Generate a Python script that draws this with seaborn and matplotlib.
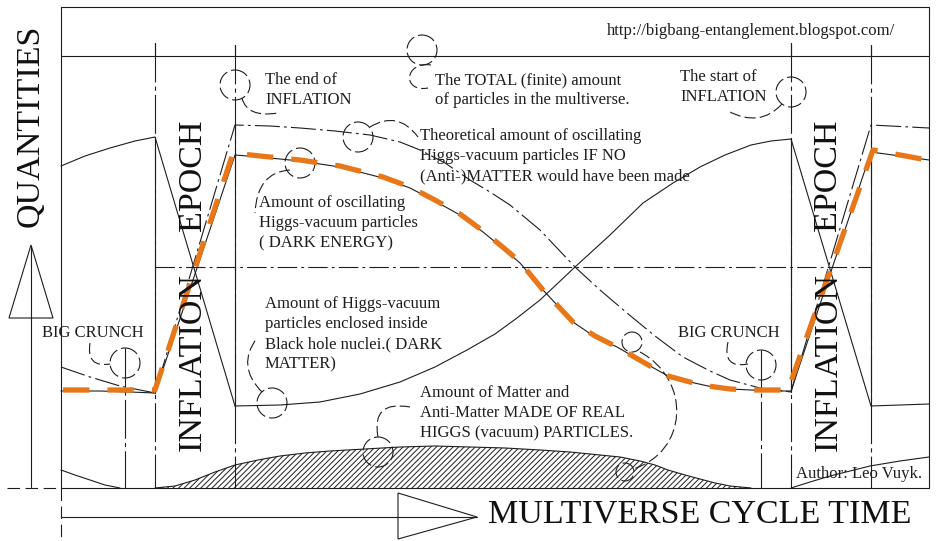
import numpy as np
import matplotlib.pyplot as plt
import matplotlib.patches as mpatches
from matplotlib.path import Path
import seaborn as sns

sns.set_style('white')
plt.rcParams['font.family'] = ['Liberation Serif', 'DejaVu Serif']
plt.rcParams['lines.scale_dashes'] = False
plt.rcParams['hatch.linewidth'] = 0.7
plt.rcParams['hatch.color'] = '#222222'

INK = '#1e1e1e'
ORANGE = '#E8771A'

# curves, in picture units (x = cycle time, y = quantity, downwards)
# dark matter (Higgs particles inside black hole nuclei)
dm_prev_x = [61, 85, 110, 135, 155, 235]
dm_prev_y = [166, 156, 148, 141, 137, 406]
dm_x = [235, 280, 320, 360, 400, 435, 467, 495, 517, 540, 575, 610, 643, 673, 700, 725, 751, 771, 791, 871, 900, 929]
dm_y = [406, 405, 402, 394, 382, 367, 350, 334, 318, 300, 267, 235, 203, 183, 167, 155, 145, 141, 139, 406, 405, 404]

# dark energy (oscillating Higgs-vacuum particles)
de_x = [61, 100, 130, 155, 235, 260, 300, 340, 383, 410, 433, 460, 483, 505, 520, 543, 573, 595, 617, 643, 668, 690, 708, 730, 751, 771, 791, 871, 929]
de_y = [391, 391, 392, 393, 155, 157, 161, 167, 178, 188, 200, 215, 232, 250, 263, 290, 322, 337, 347, 362, 376, 382, 386, 389, 390, 391, 391, 152, 160]

# theoretical amount if no (anti-)matter
th_x = [61, 90, 120, 155, 235, 270, 300, 335, 370, 400, 420, 445, 470, 490, 510, 540, 575, 600, 627, 655, 683, 710, 730, 760, 791, 871, 929]
th_y = [367, 377, 386, 393, 125, 126, 128, 131, 135, 142, 150, 163, 180, 192, 205, 230, 267, 290, 313, 336, 357, 371, 380, 388, 392, 125, 128]

# orange overlay
or_x = [63, 155, 233, 260, 300, 340, 383, 410, 433, 460, 483, 505, 520, 543, 573, 595, 617, 643, 668, 690, 708, 730, 751, 788, 873, 938]
or_y = [390, 390, 153, 156, 160, 166, 177, 187, 199, 214, 231, 249, 262, 290, 322, 336, 347, 362, 376, 382, 386, 389, 390, 390, 150, 162]

# matter and anti-matter
mat_x = [155, 175, 195, 215, 235, 258, 280, 305, 330, 365, 400, 435, 470, 505, 540, 570, 600, 620, 640, 655, 668, 685, 700, 715, 730, 751]
mat_y = [488, 486, 480, 472, 465, 460, 456, 453, 451, 449, 447, 446, 447, 448, 450, 452, 455, 457, 461, 465, 470, 475, 479, 483, 486, 488]
mat_prev_x = [61, 75, 90, 105, 120]
mat_prev_y = [470, 475, 480, 485, 488]
mat_next_x = [791, 810, 830, 850, 870, 900, 929]
mat_next_y = [488, 482, 476, 471, 466, 461, 457]

# epoch borders and big crunch markers
epoch_x = [155, 235, 791, 871]
epoch_top = [43, 45, 43, 45]
epoch_solid_top = [137, 125, 139, 125]
epoch_solid_bot = [393, 406, 392, 407]
crunch_x = [125, 761]
crunch_top = [348, 350]

# dashed circles: x, y, r
circ_x = [235, 422, 791, 358, 300, 272, 378, 632, 625, 125, 761]
circ_y = [85, 50, 92, 137, 163, 403, 452, 342, 472, 363, 365]
circ_r = [15, 15, 15, 15, 15, 15, 15, 10, 9, 15, 15]

# dashed leaders (quadratic: start, control, end)
lead3 = [
    [(242, 98), (247, 118), (278, 113)],
    [(782, 104), (760, 128), (728, 111)],
    [(370, 127), (398, 110), (418, 137)],
    [(290, 170), (257, 172), (255, 213)],
    [(262, 392), (236, 366), (257, 338)],
    [(378, 437), (371, 400), (410, 407)],
    [(90, 343), (86, 368), (110, 364)],
    [(728, 342), (722, 369), (748, 364)],
]
# cubic leaders
lead4 = [
    [(431, 65), (404, 61), (402, 93), (428, 88)],
    [(640, 352), (692, 380), (688, 452), (633, 469)],
]

# labels: left x, first-line centre y, lines
labels = [
    (607, 30, ['http://bigbang-entanglement.blogspot.com/']),
    (265, 79, ['The end of', 'INFLATION']),
    (435, 79, ['The TOTAL (finite) amount', 'of particles in the multiverse.']),
    (680, 76, ['The start of', 'INFLATION']),
    (420, 135, ['Theoretical amount of oscillating', 'Higgs-vacuum particles IF NO',
                '(Anti-)MATTER would have been made']),
    (259, 202, ['Amount of oscillating', 'Higgs-vacuum particles', '( DARK ENERGY)']),
    (265, 303, ['Amount of Higgs-vacuum', 'particles enclosed inside',
                'Black hole nuclei.( DARK', 'MATTER)']),
    (420, 392, ['Amount of Matter and', 'Anti-Matter MADE OF REAL',
                'HIGGS (vacuum) PARTICLES.']),
    (42, 332, ['BIG CRUNCH']),
    (678, 332, ['BIG CRUNCH']),
    (796, 473, ['Author: Leo Vuyk.']),
]

fig = plt.figure(figsize=(9.38, 5.41), dpi=100)
ax = fig.add_axes([0, 0, 1, 1])
ax.set_xlim(0, 938)
ax.set_ylim(541, 0)
ax.axis('off')

lw = 0.8
dashdot = (0, (28, 3, 3, 3))

# frame
ax.plot([61, 929, 929, 61, 61], [7, 7, 488, 488, 7], color=INK, lw=lw)
ax.plot([61, 929], [56, 56], color=INK, lw=lw)
ax.plot([61, 61], [488, 541], color=INK, lw=lw, ls=(0, (9, 4)))
ax.plot([7, 61], [488, 488], color=INK, lw=lw, ls=(0, (9, 4)))
ax.plot([155, 871], [267, 267], color=INK, lw=lw, ls=(0, (14, 3, 2, 3)))

for x, t, s0, s1 in zip(epoch_x, epoch_top, epoch_solid_top, epoch_solid_bot):
    ax.plot([x, x], [t, 488], color=INK, lw=lw, ls=dashdot)
    ax.plot([x, x], [t, 56], color=INK, lw=lw)
    ax.plot([x, x], [s0, s1], color=INK, lw=lw)
for x, t in zip(crunch_x, crunch_top):
    ax.plot([x, x], [t, 488], color=INK, lw=lw, ls=dashdot)

# axes arrows
ax.plot([31, 31], [247, 487], color=INK, lw=lw)
ax.add_patch(mpatches.Polygon([(31, 245), (9, 318), (53, 318)], closed=True,
                              fill=False, ec=INK, lw=lw))
ax.plot([61, 477], [517, 517], color=INK, lw=lw)
ax.add_patch(mpatches.Polygon([(398, 493), (398, 539), (477, 517)], closed=True,
                              fill=False, ec=INK, lw=lw))

# matter, hatched
ax.fill_between(mat_x, mat_y, 488, facecolor='white', edgecolor=INK, hatch='//////', lw=0)
for xs, ys in [(mat_x, mat_y), (mat_prev_x, mat_prev_y), (mat_next_x, mat_next_y)]:
    sns.lineplot(x=xs, y=ys, sort=False, estimator=None, ax=ax, color=INK, lw=lw, legend=False)

# curves
sns.lineplot(x=dm_prev_x, y=dm_prev_y, sort=False, estimator=None, ax=ax, color=INK, lw=lw, legend=False)
sns.lineplot(x=dm_x, y=dm_y, sort=False, estimator=None, ax=ax, color=INK, lw=lw, legend=False)
sns.lineplot(x=de_x, y=de_y, sort=False, estimator=None, ax=ax, color=INK, lw=lw, legend=False)
sns.lineplot(x=th_x, y=th_y, sort=False, estimator=None, ax=ax, color=INK, lw=lw,
             linestyle=(0, (18, 3, 2, 3)), legend=False)
sns.lineplot(x=or_x, y=or_y, sort=False, estimator=None, ax=ax, color=ORANGE, lw=3.8,
             linestyle=(0, (19, 13)), legend=False, solid_capstyle='butt')

# dashed circles and leaders
for x, y, r in zip(circ_x, circ_y, circ_r):
    ax.add_patch(mpatches.Circle((x, y), r, fill=False, ec=INK, lw=lw, ls=(0, (10, 3))))
for pts in lead3:
    ax.add_patch(mpatches.PathPatch(Path(pts, [Path.MOVETO, Path.CURVE3, Path.CURVE3]),
                                    fill=False, ec=INK, lw=lw, ls=(0, (8, 3))))
for pts in lead4:
    ax.add_patch(mpatches.PathPatch(Path(pts, [Path.MOVETO, Path.CURVE4, Path.CURVE4, Path.CURVE4]),
                                    fill=False, ec=INK, lw=lw, ls=(0, (8, 3))))

# labels
for x, y, lines in labels:
    for i, line in enumerate(lines):
        ax.text(x, y + 5 + i * 20.2, line, fontsize=12, color=INK, ha='left', va='baseline')

big = dict(fontsize=24.5, color='#111111', ha='center', va='center')
ax.text(30, 126, 'QUANTITIES', rotation=90, **big)
ax.text(700, 514, 'MULTIVERSE CYCLE TIME', **big)
for x in [193, 828]:
    ax.text(x, 175, 'EPOCH', rotation=90, **big)
    ax.text(x, 362, 'INFLATION', rotation=90, **big)

fig.savefig('out.png', dpi=100)
